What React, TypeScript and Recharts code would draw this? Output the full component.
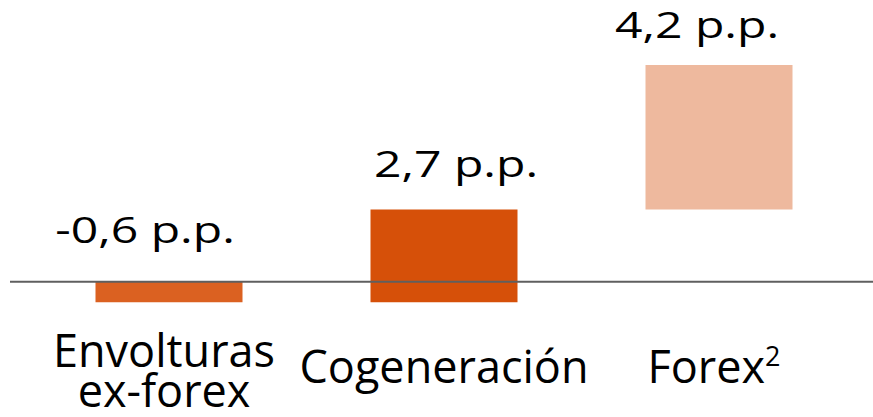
import React from 'react';
import { BarChart, Bar, XAxis, YAxis, Cell, LabelList, ReferenceLine } from 'recharts';

const categories = ['Envolturas ex-forex', 'Cogeneración', 'Forex'];
const categoryLines = [['Envolturas', 'ex-forex'], ['Cogeneración'], ['Forex']];
const categorySuperscripts = ['', '', '2'];
const changes = [-0.6, 2.7, 4.2];
const valueLabels = ['-0,6 p.p.', '2,7 p.p.', '4,2 p.p.'];
const barColors = ['#DB6121', '#D65009', '#EEB99E'];

const labelDx = [-24, 12, -22];
const labelGap = [39, 32, 27];

let running = 0;
const data = categories.map((name, i) => {
  const start = running;
  running += changes[i];
  return { name, range: [start, running] };
});

const ValueLabel = (props: any) => {
  const x = Number(props.x);
  const y = Number(props.y);
  const width = Number(props.width);
  const height = Number(props.height);
  const index = props.index;
  const top = Math.min(y, y + height);
  const cx = x + width / 2 + labelDx[index];
  return (
    <text
      transform={`translate(${cx},${top - labelGap[index]}) scale(1.3,1)`}
      textAnchor="middle"
      fontFamily="Open Sans"
      fontSize={37}
      fill="#000"
    >
      {valueLabels[index]}
    </text>
  );
};

const CategoryTick = (props: any) => {
  const { x, y, payload } = props;
  const i = payload.index;
  const lines = categoryLines[i];
  const sup = categorySuperscripts[i];
  const dx = [-5, 0, -5][i];
  if (lines.length === 2) {
    return (
      <g>
        <text x={x + dx} y={y + 51} textAnchor="middle" fontFamily="Open Sans" fontSize={45} fill="#000">
          {lines[0]}
        </text>
        <text x={x + dx} y={y + 91} textAnchor="middle" fontFamily="Open Sans" fontSize={45} fill="#000">
          {lines[1]}
        </text>
      </g>
    );
  }
  return (
    <text x={x + dx} y={y + 67} textAnchor="middle" fontFamily="Open Sans" fontSize={45} fill="#000">
      {lines[0]}
      {sup ? (
        <tspan dy={-17} fontSize={27}>
          {sup}
        </tspan>
      ) : null}
    </text>
  );
};

export default function App() {
  return (
    <div style={{ position: 'absolute', left: 0, top: 0, width: 873, height: 417, background: '#fff' }}>
      <BarChart
        width={873}
        height={417}
        data={data}
        margin={{ top: 41, right: 0, left: 10, bottom: 0 }}
        barSize={147}
      >
        <YAxis hide domain={[-1, 7]} type="number" />
        <XAxis
          dataKey="name"
          height={101}
          axisLine={false}
          tickLine={false}
          tickSize={0}
          tickMargin={0}
          interval={0}
          padding={{ left: 21.5, right: 16.5 }}
          tick={<CategoryTick />}
        />
        <Bar dataKey="range" isAnimationActive={false}>
          {data.map((d, i) => (
            <Cell key={d.name} fill={barColors[i]} />
          ))}
          <LabelList dataKey="range" content={<ValueLabel />} />
        </Bar>
        <ReferenceLine y={0} stroke="#5f5f5f" strokeWidth={2} />
      </BarChart>
    </div>
  );
}
